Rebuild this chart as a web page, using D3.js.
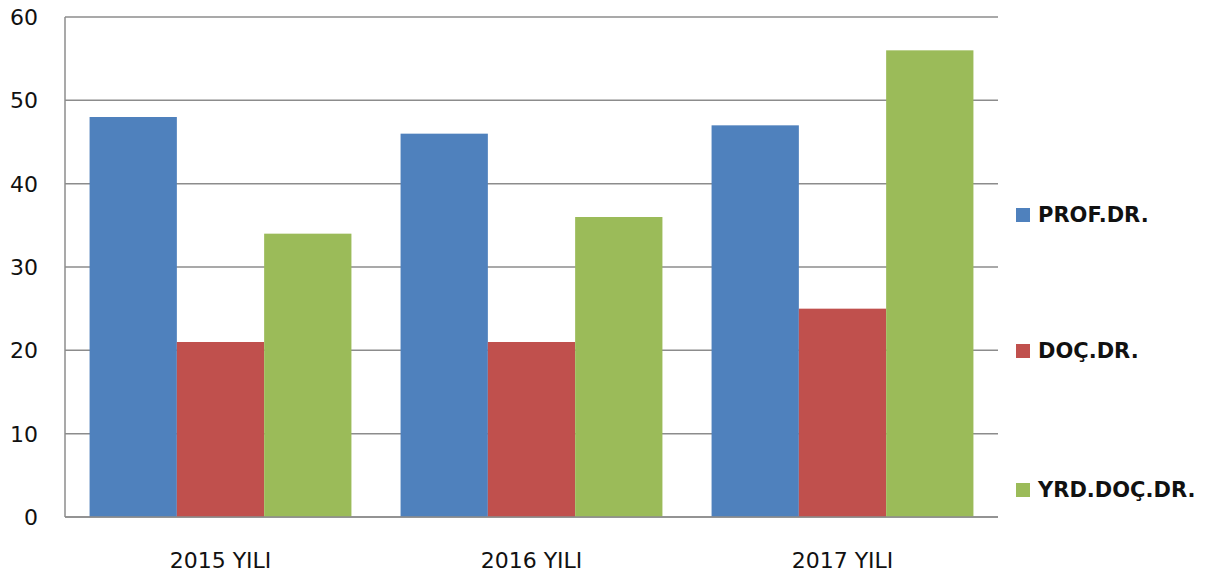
<!DOCTYPE html>
<html><head><meta charset="utf-8">
<script src="https://cdn.jsdelivr.net/npm/d3@7"></script>
<style>body{margin:0;background:#fff}</style>
</head><body>
<svg id="c" width="1212" height="578"></svg>
<script>
const categories = ["2015 YILI", "2016 YILI", "2017 YILI"];
const seriesNames = ["PROF.DR.", "DOÇ.DR.", "YRD.DOÇ.DR."];
const profDr = [48, 46, 47];
const docDr = [21, 21, 25];
const yrdDocDr = [34, 36, 56];
const yTicks = [0, 10, 20, 30, 40, 50, 60];
const colors = ["#4F81BD", "#C0504D", "#9BBB59"];

const values = [profDr, docDr, yrdDocDr];
const svg = d3.select("#c");
const pLeft = 65, pRight = 998, pTop = 17, pBottom = 517;

const x0 = d3.scaleBand().domain(categories).range([pLeft, pRight]).paddingInner(0.158).paddingOuter(0.079);
const x1 = d3.scaleBand().domain(seriesNames).range([0, x0.bandwidth()]).padding(0);
const y = d3.scaleLinear().domain([0, 60]).range([pBottom, pTop]);

svg.append("g").selectAll("line").data(yTicks).join("line")
  .attr("x1", pLeft).attr("x2", pRight)
  .attr("y1", d => y(d)).attr("y2", d => y(d))
  .attr("stroke", "#8c8c8c").attr("stroke-width", 1.5);

svg.append("line").attr("x1", pLeft).attr("x2", pLeft).attr("y1", pTop).attr("y2", pBottom)
  .attr("stroke", "#8c8c8c").attr("stroke-width", 1.5);

const groups = svg.append("g").selectAll("g").data(categories).join("g")
  .attr("transform", d => `translate(${x0(d)},0)`);
groups.selectAll("rect").data((c, i) => seriesNames.map((s, j) => ({s, j, v: values[j][i]})))
  .join("rect")
  .attr("x", d => x1(d.s)).attr("width", x1.bandwidth())
  .attr("y", d => y(d.v)).attr("height", d => y(0) - y(d.v))
  .attr("fill", d => colors[d.j]);

svg.append("line").attr("x1", pLeft).attr("x2", pRight).attr("y1", pBottom).attr("y2", pBottom)
  .attr("stroke", "#8c8c8c").attr("stroke-width", 1.5);

svg.append("g").selectAll("text").data(yTicks).join("text")
  .attr("x", 38).attr("y", d => y(d) + 8)
  .attr("text-anchor", "end")
  .attr("font-family", "DejaVu Sans, sans-serif").attr("font-size", 22)
  .attr("fill", "#111").text(d => d);

svg.append("g").selectAll("text").data(categories).join("text")
  .attr("x", d => x0(d) + x0.bandwidth() / 2).attr("y", 568)
  .attr("text-anchor", "middle")
  .attr("font-family", "DejaVu Sans, sans-serif").attr("font-size", 22)
  .attr("fill", "#111").text(d => d);

const legY = [222, 358, 497];
const leg = svg.append("g").selectAll("g").data(seriesNames).join("g")
  .attr("transform", (d, i) => `translate(1016,${legY[i]})`);
leg.append("rect").attr("x", 0).attr("y", -14).attr("width", 14).attr("height", 14)
  .attr("fill", (d, i) => colors[i]);
leg.append("text").attr("x", 22).attr("y", 0)
  .attr("font-family", "DejaVu Sans, sans-serif").attr("font-weight", "bold").attr("font-size", 21)
  .attr("fill", "#111").text(d => d);
</script>
</body></html>
